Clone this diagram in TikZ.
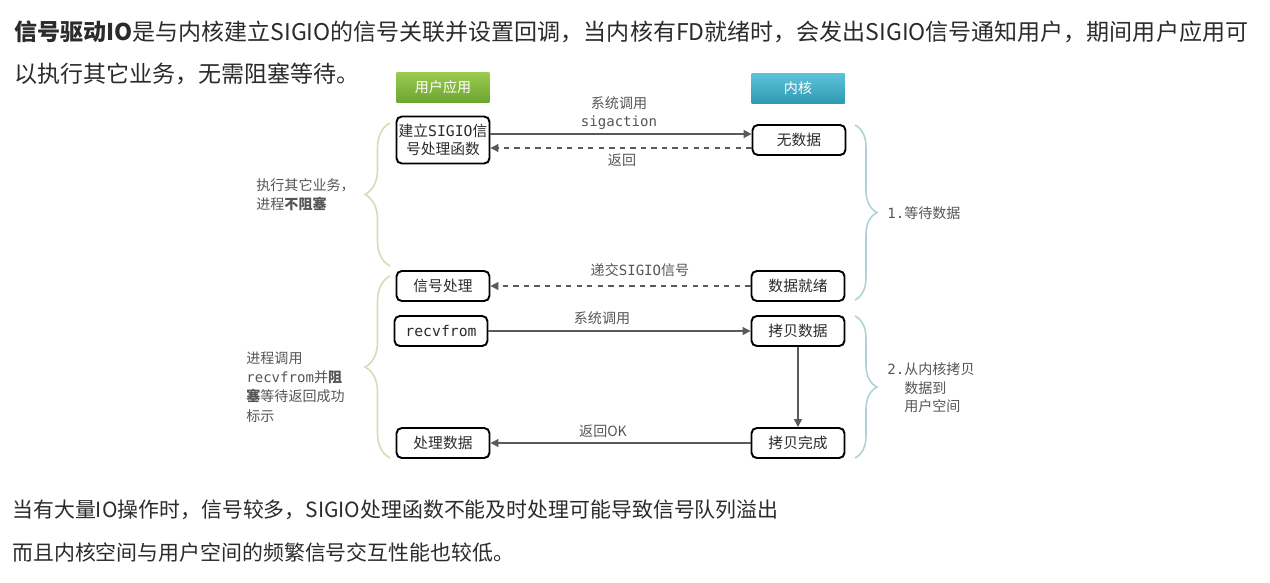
\documentclass[tikz,border=0pt]{standalone}
\usepackage{fontspec}
\setmainfont{Noto Sans CJK SC}
\newfontfamily\monofont{DejaVu Sans Mono}
\newcommand{\mtt}[1]{{\monofont #1}}
\usetikzlibrary{arrows.meta,positioning,decorations.pathreplacing}
\definecolor{txtdark}{HTML}{2B2B2B}
\definecolor{lblgray}{HTML}{555555}
\definecolor{linegray}{HTML}{5A5A5A}
\definecolor{usrtop}{HTML}{9CCB50}
\definecolor{usrbot}{HTML}{6CA631}
\definecolor{kertop}{HTML}{5EC3D9}
\definecolor{kerbot}{HTML}{2E9BB3}
\definecolor{bracegreen}{HTML}{D2DDB8}
\definecolor{braceteal}{HTML}{AFD3D4}

\begin{document}
\begin{tikzpicture}[
  x=0.02cm, y=-0.02cm,
  box/.style={draw=black, line width=1.1pt, rounded corners=3pt, fill=white, minimum width=1.86cm, minimum height=0.6cm, align=center, inner sep=1pt, text=txtdark, font=\fontsize{8.4pt}{10.2pt}\selectfont},
  hdr/.style={minimum width=1.86cm, minimum height=0.6cm, text=white, font=\fontsize{8pt}{10pt}\selectfont},
  lbl/.style={text=lblgray, align=center, inner sep=0pt, font=\fontsize{8pt}{10.2pt}\selectfont},
  side/.style={text=lblgray, align=left, inner sep=0pt, anchor=west, font=\fontsize{8pt}{10.6pt}\selectfont},
  para/.style={anchor=west, inner sep=0pt, text=txtdark},
  arr/.style={-{Triangle[length=4.5pt,width=4.5pt]}, draw=linegray, line width=0.7pt},
  darr/.style={arr, dashed},
  brc/.style={decorate, decoration={brace, amplitude=0.5cm}, line width=0.9pt}
]
  \useasboundingbox (0,0) rectangle (1270,582);

  \node[para, font=\fontsize{13.1pt}{16pt}\selectfont] (intro1) at (14,32) {\textbf{信号驱动IO}是与内核建立SIGIO的信号关联并设置回调，当内核有FD就绪时，会发出SIGIO信号通知用户，期间用户应用可};
  \node[para, font=\fontsize{13.1pt}{16pt}\selectfont] (intro2) at (14,74) {以执行其它业务，无需阻塞等待。};

  \node[hdr, top color=usrtop, bottom color=usrbot] (user) at (443,87) {用户应用};
  \node[hdr, top color=kertop, bottom color=kerbot] (kernel) at (798,88) {内核};

  \node[box, minimum height=0.94cm] (setup) at (443,140) {建立\mtt{SIGIO}信\\号处理函数};
  \node[box] (nodata) at (799,140) {无数据};
  \node[box] (sighandle) at (443,286) {信号处理};
  \node[box] (ready) at (798,286) {数据就绪};
  \node[box] (recv) at (441,331) {\mtt{recvfrom}};
  \node[box] (copy) at (798,331) {拷贝数据};
  \node[box] (process) at (443,443) {处理数据};
  \node[box] (copied) at (798,443) {拷贝完成};

  \draw[arr] ([yshift=0.12cm]setup.east) -- ([yshift=0.12cm]nodata.west);
  \draw[darr] ([yshift=-0.16cm]nodata.west) -- ([yshift=-0.16cm]setup.east);
  \draw[darr] (ready) -- (sighandle);
  \draw[arr] (recv) -- (copy);
  \draw[arr] (copy) -- (copied);
  \draw[arr] (copied) -- (process);

  \node[lbl] (syscall1) at (619,113) {系统调用\\\mtt{sigaction}};
  \node[lbl] (ret1) at (622,160) {返回};
  \node[lbl] (deliver) at (640,270) {递交\mtt{SIGIO}信号};
  \node[lbl] (syscall2) at (602,318) {系统调用};
  \node[lbl] (retok) at (603,431) {返回OK};

  \draw[brc, draw=bracegreen] (390,266) -- (390,123);
  \draw[brc, draw=bracegreen] (390,458) -- (390,276);
  \draw[brc, draw=braceteal, decoration={amplitude=0.44cm}] (855,125) -- (855,300);
  \draw[brc, draw=braceteal, decoration={amplitude=0.44cm}] (855,316) -- (855,458);

  \node[side] (nonblock) at (256,195) {执行其它业务，\\进程\textbf{不阻塞}};
  \node[side, font=\fontsize{8pt}{11pt}\selectfont] (block) at (246,387) {进程调用\\\mtt{recvfrom}并\textbf{阻}\\\textbf{塞}等待返回成功\\标示};
  \node[side] (wait) at (887,213) {\mtt{1.}等待数据};
  \node[side] (copyout) at (887,388) {\mtt{2.}从内核拷贝\\\phantom{\mtt{2.}}数据到\\\phantom{\mtt{2.}}用户空间};

  \node[para, font=\fontsize{11.9pt}{15pt}\selectfont] (note1) at (12,510) {当有大量IO操作时，信号较多，SIGIO处理函数不能及时处理可能导致信号队列溢出};
  \node[para, font=\fontsize{11.9pt}{15pt}\selectfont] (note2) at (12,553) {而且内核空间与用户空间的频繁信号交互性能也较低。};
\end{tikzpicture}
\end{document}
